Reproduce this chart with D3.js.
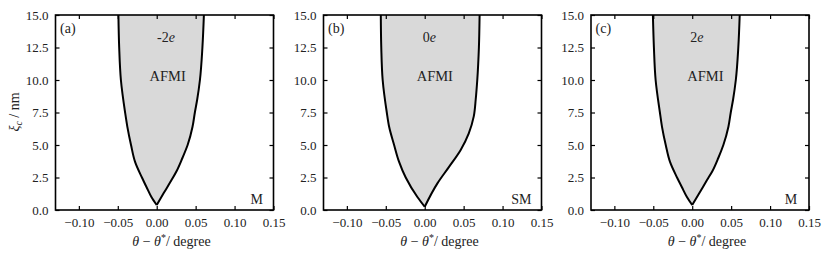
<!DOCTYPE html>
<html>
<head>
<meta charset="utf-8">
<script src="https://cdn.jsdelivr.net/npm/d3@7"></script>
<style>
  body { margin: 0; background: #fff; }
  svg { display: block; }
</style>
</head>
<body>
<div id="chart"></div>
<script>
// panel names, charge and phase labels
const panelTags = ["(a)", "(b)", "(c)"];
const charges = ["-2", "0", "2"];
const outsidePhase = ["M", "SM", "M"];
const insidePhase = "AFMI";

// axis ticks
const xTicks = [-0.10, -0.05, 0.00, 0.05, 0.10, 0.15];
const yTicks = [0, 2.5, 5, 7.5, 10, 12.5, 15];

// boundary of the AFMI region, xi_c values (nm) and theta - theta* (degree)
const leftYA  = [0.38, 1.0, 1.75, 2.5, 3.7, 5.0, 6.4, 7.5, 10.0, 12.5, 15.0];
const leftXA  = [0.000, -0.0068, -0.0130, -0.0190, -0.0278, -0.0330, -0.0377, -0.0406, -0.0460, -0.0482, -0.0492];
const rightYA = [0.38, 1.3, 2.3, 3.0, 4.0, 5.0, 6.4, 7.5, 8.5, 10.0, 12.5, 15.0];
const rightXA = [0.000, 0.0090, 0.0190, 0.0256, 0.0330, 0.0397, 0.0460, 0.0490, 0.0520, 0.0555, 0.0587, 0.0606];

const leftYB  = [0.25, 1.0, 2.5, 3.7, 5.0, 6.4, 7.5, 10.0, 12.5, 15.0];
const leftXB  = [0.000, -0.0094, -0.0244, -0.0329, -0.0393, -0.0457, -0.0487, -0.0540, -0.0558, -0.0564];
const rightYB = [0.25, 2.05, 3.3, 4.6, 5.9, 7.2, 8.5, 10.0, 12.5, 15.0];
const rightXB = [0.000, 0.0163, 0.0310, 0.0460, 0.0566, 0.0630, 0.0655, 0.0675, 0.0696, 0.0705];

const leftYC  = [0.38, 1.0, 1.75, 2.5, 3.7, 5.0, 6.4, 7.5, 10.0, 12.5, 15.0];
const leftXC  = [0.000, -0.0068, -0.0132, -0.0195, -0.0285, -0.0340, -0.0388, -0.0415, -0.0470, -0.0492, -0.0505];
const rightYC = [0.38, 1.3, 2.3, 3.0, 4.0, 5.0, 6.4, 7.5, 8.5, 10.0, 12.5, 15.0];
const rightXC = [0.000, 0.0092, 0.0190, 0.0260, 0.0335, 0.0400, 0.0465, 0.0495, 0.0525, 0.0560, 0.0592, 0.0610];

const boundaries = [
  { lx: leftXA, ly: leftYA, rx: rightXA, ry: rightYA },
  { lx: leftXB, ly: leftYB, rx: rightXB, ry: rightYB },
  { lx: leftXC, ly: leftYC, rx: rightXC, ry: rightYC }
];

const width = 830, height = 257;
const panelLeft = [55.5, 323.5, 591];
const plotW = 218, plotH = 195, plotTop = 15;
const serif = '"Liberation Serif", "Times New Roman", serif';

const svg = d3.select("#chart").append("svg")
  .attr("width", width)
  .attr("height", height);

const x = d3.scaleLinear().domain([-0.13, 0.15]).range([0, plotW]);
const y = d3.scaleLinear().domain([0, 15]).range([plotH, 0]);

const line = d3.line()
  .x(d => x(d[0]))
  .y(d => y(d[1]))
  .curve(d3.curveMonotoneY);

// where the text sits inside each panel (data coords)
const afmiX = [0.014, 0.013, 0.017];
const chargeX = [0.012, 0.006, 0.006];
const phaseX = [0.1286, 0.124, 0.127];

boundaries.forEach((b, i) => {
  const g = svg.append("g")
    .attr("transform", `translate(${panelLeft[i]},${plotTop})`);

  const left = b.ly.map((v, k) => [b.lx[k], v]);
  const right = b.ry.map((v, k) => [b.rx[k], v]);

  // fill: left branch top -> bottom, then right branch bottom -> top
  const leftPath = line(left.slice().reverse());
  const rightPath = line(right).replace(/^M/, "L");
  g.append("path")
    .attr("d", leftPath + rightPath + "Z")
    .attr("fill", "#d9d9d9")
    .attr("stroke", "none");

  g.append("path")
    .attr("d", line(left))
    .attr("fill", "none")
    .attr("stroke", "#000")
    .attr("stroke-width", 2);
  g.append("path")
    .attr("d", line(right))
    .attr("fill", "none")
    .attr("stroke", "#000")
    .attr("stroke-width", 2);

  // axes with inward ticks on all sides
  const fmtX = d3.format(".2f");
  const fmtY = d3.format(".1f");

  const xb = g.append("g").attr("transform", `translate(0,${plotH})`)
    .call(d3.axisBottom(x).tickValues(xTicks).tickSize(-4).tickPadding(8).tickFormat(fmtX));
  const xt = g.append("g")
    .call(d3.axisTop(x).tickValues(xTicks).tickSize(-4).tickFormat(""));
  const yl = g.append("g")
    .call(d3.axisLeft(y).tickValues(yTicks).tickSize(-4).tickPadding(7).tickFormat(fmtY));
  const yr = g.append("g").attr("transform", `translate(${plotW},0)`)
    .call(d3.axisRight(y).tickValues(yTicks).tickSize(-4).tickFormat(""));

  [xb, xt, yl, yr].forEach(a => {
    a.select(".domain").remove();
    a.selectAll(".tick line").attr("stroke", "#000").attr("stroke-width", 1.2);
    a.selectAll("text")
      .attr("font-size", 13)
      .attr("fill", "#222");
  });

  // frame
  g.append("rect")
    .attr("width", plotW)
    .attr("height", plotH)
    .attr("fill", "none")
    .attr("stroke", "#000")
    .attr("stroke-width", 1.6);

  g.append("text")
    .attr("x", 4.5)
    .attr("y", 18)
    .attr("font-size", 14)
    .attr("fill", "#222")
    .text(panelTags[i]);

  const ct = g.append("text")
    .attr("x", x(chargeX[i]))
    .attr("y", y(12.92))
    .attr("text-anchor", "middle")
    .attr("font-size", 14)
    .attr("fill", "#222");
  ct.append("tspan").text(charges[i]);
  ct.append("tspan").attr("font-style", "italic").text("e");

  g.append("text")
    .attr("x", x(afmiX[i]))
    .attr("y", y(9.92))
    .attr("text-anchor", "middle")
    .attr("font-size", 14.5)
    .attr("fill", "#222")
    .text(insidePhase);

  g.append("text")
    .attr("x", x(phaseX[i]))
    .attr("y", y(0.46))
    .attr("text-anchor", "middle")
    .attr("font-size", 14)
    .attr("fill", "#222")
    .text(outsidePhase[i]);

  // x label
  const xl = g.append("text")
    .attr("x", plotW / 2 + 7)
    .attr("y", 231)
    .attr("text-anchor", "middle")
    .attr("font-size", 14)
    .attr("fill", "#222");
  xl.append("tspan").attr("font-style", "italic").text("θ");
  xl.append("tspan").text(" − ");
  xl.append("tspan").attr("font-style", "italic").text("θ");
  xl.append("tspan").attr("font-size", 10).attr("dy", -5).text("*");
  xl.append("tspan").attr("dy", 5).text("/ degree");
});

// y label, only on the first panel
const ylab = svg.append("text")
  .attr("transform", "translate(19,112) rotate(-90)")
  .attr("text-anchor", "middle")
  .attr("font-size", 14)
  .attr("fill", "#222");
ylab.append("tspan").attr("font-style", "italic").text("ξ");
ylab.append("tspan").attr("font-style", "italic").attr("font-size", 10).attr("dy", 3).text("c");
ylab.append("tspan").attr("dy", -3).text(" / nm");

svg.selectAll("text").style("font-family", serif);
</script>
</body>
</html>
